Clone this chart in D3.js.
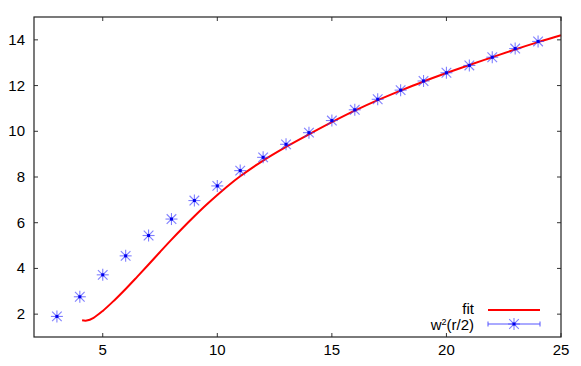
<!DOCTYPE html>
<html>
<head>
<meta charset="utf-8">
<script src="https://cdn.jsdelivr.net/npm/d3@7"></script>
<style>
  body { margin: 0; background: #fff; }
  text { font-family: "Liberation Sans", Arial, sans-serif; font-size: 15px; fill: #000; }
</style>
</head>
<body>
<svg id="chart" width="581" height="366"></svg>
<script>
// data
const rValues = [3, 4, 5, 6, 7, 8, 9, 10, 11, 12, 13, 14, 15, 16, 17, 18, 19, 20, 21, 22, 23, 24];
const w2Values = [1.9, 2.76, 3.72, 4.55, 5.44, 6.16, 6.97, 7.61, 8.28, 8.86, 9.43, 9.94, 10.47, 10.94, 11.4, 11.8, 12.2, 12.56, 12.88, 13.24, 13.62, 13.93];

const fitX = [4.1, 4.3, 4.6, 5, 5.5, 6, 6.5, 7, 7.5, 8, 8.5, 9, 9.5, 10, 10.5, 11, 12, 13, 14, 15, 16, 17, 18, 19, 20, 21, 22, 23, 24, 25];
const fitY = [1.73, 1.72, 1.84, 2.14, 2.6, 3.1, 3.63, 4.17, 4.72, 5.26, 5.78, 6.28, 6.76, 7.21, 7.64, 8.03, 8.72, 9.32, 9.87, 10.4, 10.9, 11.36, 11.78, 12.18, 12.55, 12.9, 13.24, 13.58, 13.9, 14.2];

const xTicks = [5, 10, 15, 20, 25];
const yTicks = [2, 4, 6, 8, 10, 12, 14];

const svg = d3.select("#chart");
const mLeft = 34, mRight = 561, mTop = 17, mBottom = 337;

const x = d3.scaleLinear().domain([2, 25]).range([mLeft, mRight]);
const y = d3.scaleLinear().domain([1, 15]).range([mBottom, mTop]);

// ticks, mirrored on all four sides, pointing inward
const tickLen = 4;
const ticks = svg.append("g").attr("stroke", "#333").attr("stroke-width", 1);
xTicks.forEach(t => {
  ticks.append("line").attr("x1", x(t)).attr("x2", x(t)).attr("y1", mBottom).attr("y2", mBottom - tickLen);
  ticks.append("line").attr("x1", x(t)).attr("x2", x(t)).attr("y1", mTop).attr("y2", mTop + tickLen);
});
yTicks.forEach(t => {
  ticks.append("line").attr("x1", mLeft).attr("x2", mLeft + tickLen).attr("y1", y(t)).attr("y2", y(t));
  ticks.append("line").attr("x1", mRight).attr("x2", mRight - tickLen).attr("y1", y(t)).attr("y2", y(t));
});

// tick labels
svg.append("g").selectAll("text").data(xTicks).enter().append("text")
  .attr("x", d => x(d))
  .attr("y", 355)
  .attr("text-anchor", "middle")
  .text(d => d);

svg.append("g").selectAll("text").data(yTicks).enter().append("text")
  .attr("x", 25)
  .attr("y", d => y(d) + 5)
  .attr("text-anchor", "end")
  .text(d => d);

// fit curve
const fitData = fitX.map((v, i) => [v, fitY[i]]);
const line = d3.line().x(d => x(d[0])).y(d => y(d[1])).curve(d3.curveCatmullRom);
svg.append("path")
  .datum(fitData)
  .attr("d", line)
  .attr("fill", "none")
  .attr("stroke", "#ff0000")
  .attr("stroke-width", 2);

// asterisk marker
function star(g, cx, cy, r) {
  const s = g.append("g").attr("transform", `translate(${cx},${cy})`)
    .attr("stroke", "#3a3aff").attr("stroke-width", 1.1).attr("stroke-opacity", 0.65);
  s.append("line").attr("x1", -r).attr("x2", r).attr("y1", 0).attr("y2", 0);
  s.append("line").attr("x1", 0).attr("x2", 0).attr("y1", -r).attr("y2", r);
  s.append("line").attr("x1", -r * 0.8).attr("x2", r * 0.8).attr("y1", -r * 0.8).attr("y2", r * 0.8);
  s.append("line").attr("x1", -r * 0.8).attr("x2", r * 0.8).attr("y1", r * 0.8).attr("y2", -r * 0.8);
  g.append("rect").attr("x", cx - 1.5).attr("y", cy - 1.5).attr("width", 3).attr("height", 3)
    .attr("fill", "#0000ee");
}

const pts = svg.append("g");
rValues.forEach((r, i) => star(pts, x(r), y(w2Values[i]), 6));

// legend
const legend = svg.append("g");
legend.append("text").attr("x", 474).attr("y", 314).attr("text-anchor", "end").text("fit");
legend.append("line").attr("x1", 488).attr("x2", 540).attr("y1", 310).attr("y2", 310)
  .attr("stroke", "#ff0000").attr("stroke-width", 2);

const lt = legend.append("text").attr("x", 474).attr("y", 330).attr("text-anchor", "end");
lt.append("tspan").text("w");
lt.append("tspan").attr("dy", -5).attr("font-size", "9px").text("2");
lt.append("tspan").attr("dy", 5).text("(r/2)");

const eb = legend.append("g").attr("stroke", "#5555ff").attr("stroke-width", 1);
eb.append("line").attr("x1", 488).attr("x2", 540).attr("y1", 324).attr("y2", 324);
eb.append("line").attr("x1", 488).attr("x2", 488).attr("y1", 321.5).attr("y2", 326.5);
eb.append("line").attr("x1", 540).attr("x2", 540).attr("y1", 321.5).attr("y2", 326.5);
star(legend, 514, 324, 6);

// frame
svg.append("rect")
  .attr("x", mLeft).attr("y", mTop)
  .attr("width", mRight - mLeft).attr("height", mBottom - mTop)
  .attr("fill", "none").attr("stroke", "#222").attr("stroke-width", 1.2);
</script>
</body>
</html>
